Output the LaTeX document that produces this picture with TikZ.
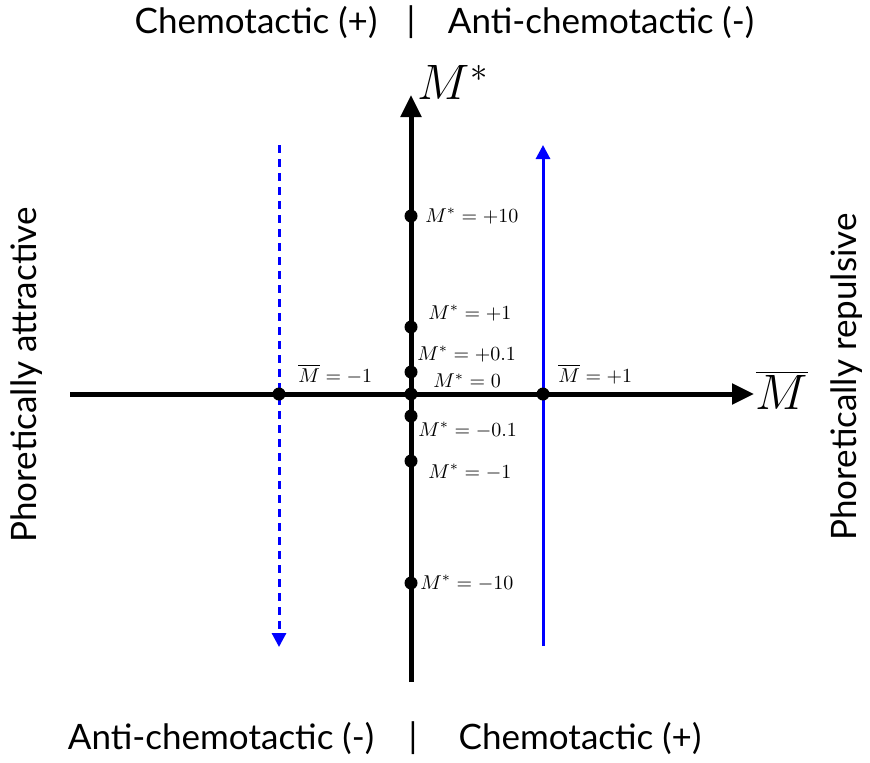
\documentclass[tikz,border=0pt]{standalone}
\usepackage{fontspec}
\setmainfont{Lato}
\usetikzlibrary{arrows.meta}
\begin{document}
\begin{tikzpicture}[x=0.5pt,y=-0.5pt,
  axis/.style={line width=2.5pt,-{Triangle[length=11pt,width=10pt]}},
  blueline/.style={blue,line width=1.5pt,-{Triangle[length=7pt,width=7pt]}},
  dot/.style={circle,fill=black,inner sep=0pt,minimum size=6.5pt},
  lab/.style={font=\fontsize{10.3}{12}\selectfont,inner sep=1pt},
  side/.style={font=\fontsize{17.5}{20}\selectfont},
  big/.style={font=\fontsize{25}{29}\selectfont}]
\useasboundingbox (0,0) rectangle (870,762);
% axes
\coordinate (hl) at (70,394);
\coordinate (hr) at (754,394);
\coordinate (vb) at (411,682);
\coordinate (vt) at (411,95);
\draw[axis] (hl) -- (hr);
\draw[axis] (vb) -- (vt);
\node[big] (mstar) at (453,82) {$M^*$};
\node[big] (mbar) at (782,390) {$\overline{M}$};
% blue lines
\coordinate (dt) at (279,145);
\coordinate (db) at (279,647);
\coordinate (sb) at (543,646);
\coordinate (st) at (543,145);
\draw[blueline,dash pattern=on 4pt off 3pt] (dt) -- (db);
\draw[blueline] (sb) -- (st);
% dots
\node[dot] (pm1) at (279,394) {};
\node[dot] (o) at (411,394) {};
\node[dot] (pp1) at (543,394) {};
\node[dot] (p10) at (411,216) {};
\node[dot] (p1) at (411,327) {};
\node[dot] (p01) at (411,372) {};
\node[dot] (m01) at (411,416) {};
\node[dot] (m1) at (411,461) {};
\node[dot] (m10) at (411,583) {};
% labels
\node[lab,anchor=west] (lp10) at (423,216) {$M^*=+10$};
\node[lab,anchor=west] (lp1) at (426,313) {$M^*=+1$};
\node[lab,anchor=west] (lp01) at (415,354) {$M^*=+0.1$};
\node[lab,anchor=west] (lo) at (431,381) {$M^*=0$};
\node[lab,anchor=west] (lm01) at (416,430) {$M^*=-0.1$};
\node[lab,anchor=west] (lm1) at (426,472) {$M^*=-1$};
\node[lab,anchor=west] (lm10) at (418,583) {$M^*=-10$};
\node[lab,anchor=west] (lbm1) at (296,374) {$\overline{M}=-1$};
\node[lab,anchor=west] (lbp1) at (556,374) {$\overline{M}=+1$};
% side texts
\node[side] (top1) at (256,22) {Chemotactic (+)};
\node[side] (topbar) at (411,22) {|};
\node[side] (top2) at (601,22) {Anti-chemotactic (-)};
\node[side] (bot1) at (221,738) {Anti-chemotactic (-)};
\node[side] (botbar) at (413,738) {|};
\node[side] (bot2) at (580,738) {Chemotactic (+)};
\node[side,rotate=90] (left) at (27,375) {Phoretically attractive};
\node[side,rotate=90] (right) at (847,377) {Phoretically repulsive};
\end{tikzpicture}
\end{document}
